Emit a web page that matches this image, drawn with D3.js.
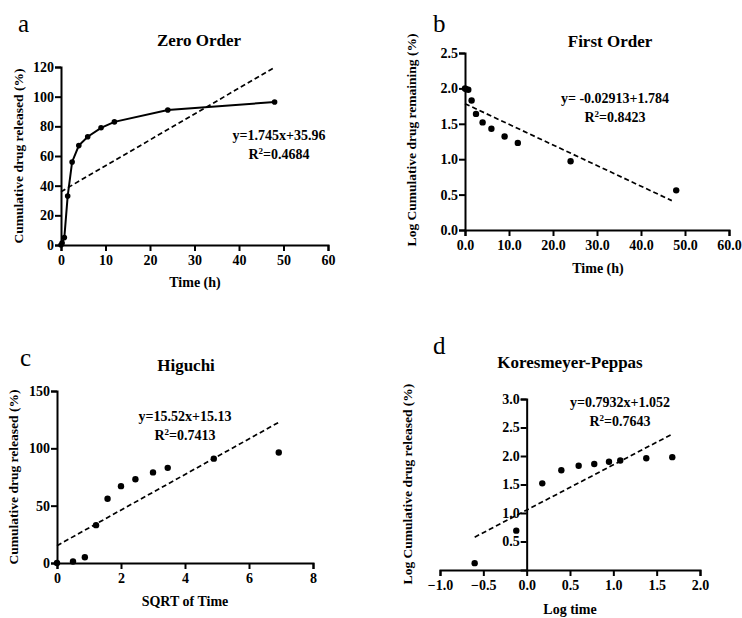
<!DOCTYPE html>
<html>
<head>
<meta charset="utf-8">
<script src="https://cdn.jsdelivr.net/npm/d3@7"></script>
<style>
  body { margin: 0; background: #fff; }
  svg { display: block; font-family: "Liberation Serif", "Times New Roman", serif; }
  .axis path, .axis line { stroke: #000; stroke-width: 2; }
</style>
</head>
<body>
<svg width="742" height="618"></svg>
<script>
// sampling times (h) and cumulative release (%)
var times = [0, 0.25, 0.75, 1.5, 2.5, 4, 6, 9, 12, 24, 48];
var released = [0, 1.3, 5, 33, 56, 67, 73, 79, 83, 91, 96.4];

// first order: log % remaining
var logRemaining = [2.0, 1.99, 1.98, 1.83, 1.64, 1.52, 1.43, 1.32, 1.23, 0.97, 0.56];

// higuchi: sqrt of time
var sqrtTime = [0, 0.5, 0.87, 1.22, 1.58, 2.0, 2.45, 3.0, 3.46, 4.9, 6.93];

// korsmeyer-peppas: log time vs log released (t = 0 dropped)
var logTime = [-0.6, -0.12, 0.18, 0.4, 0.6, 0.78, 0.95, 1.08, 1.38, 1.68];
var logReleased = [0.12, 0.69, 1.52, 1.75, 1.83, 1.86, 1.9, 1.92, 1.96, 1.98];

// fits: [slope, intercept, xStart, xEnd]
var fitZero = [1.745, 35.96, 0, 48];
var fitFirst = [-0.02913, 1.784, 0, 47];
var fitHiguchi = [15.52, 15.13, 0, 6.93];
var fitKP = [0.7932, 1.052, -0.6, 1.68];

var svg = d3.select("svg");
var serif = "'Liberation Serif', 'Times New Roman', serif";

function styleAxis(sel) {
    sel.attr("font-family", serif).attr("font-size", 14);
    sel.selectAll(".tick text")
        .attr("font-weight", "bold").attr("fill", "#000");
}

function drawPanel(opt) {
    var g = svg.append("g");
    var x = d3.scaleLinear().domain(opt.xDomain).range(opt.xRange);
    var y = d3.scaleLinear().domain(opt.yDomain).range(opt.yRange);

    var xAxis = d3.axisBottom(x).tickValues(opt.xTicks).tickSizeOuter(0).tickSize(6).tickPadding(4)
        .tickFormat(opt.xFmt);
    var yAxis = d3.axisLeft(y).tickValues(opt.yTicks).tickSizeOuter(0).tickSize(6).tickPadding(1)
        .tickFormat(opt.yFmt);

    g.append("g").attr("class", "axis")
        .attr("transform", "translate(0," + y(opt.xAxisAt) + ")")
        .call(xAxis)
        .call(styleAxis);
    g.append("g").attr("class", "axis")
        .attr("transform", "translate(" + x(opt.yAxisAt) + ",0)")
        .call(yAxis)
        .call(styleAxis);

    // fitted line
    var f = opt.fit;
    g.append("line")
        .attr("x1", x(f[2])).attr("y1", y(f[0] * f[2] + f[1]))
        .attr("x2", x(f[3])).attr("y2", y(f[0] * f[3] + f[1]))
        .attr("stroke", "#000").attr("stroke-width", 1.7)
        .attr("stroke-dasharray", "5,3");

    if (opt.connect) {
        g.append("path")
            .datum(opt.xs)
            .attr("fill", "none").attr("stroke", "#000").attr("stroke-width", 2)
            .attr("d", d3.line().x(function (d) { return x(d); })
                .y(function (d, i) { return y(opt.ys[i]); }));
    }

    g.selectAll("circle.pt")
        .data(opt.xs)
        .enter().append("circle")
        .attr("class", "pt")
        .attr("cx", function (d) { return x(d); })
        .attr("cy", function (d, i) { return y(opt.ys[i]); })
        .attr("r", opt.r);

    // letter, title, labels
    g.append("text").attr("x", opt.letter[1]).attr("y", opt.letter[2])
        .attr("font-size", 25).text(opt.letter[0]);
    g.append("text").attr("x", opt.title[1]).attr("y", opt.title[2])
        .attr("text-anchor", "middle").attr("font-size", 17).attr("font-weight", "bold")
        .text(opt.title[0]);
    g.append("text").attr("x", opt.xTitle[1]).attr("y", opt.xTitle[2])
        .attr("text-anchor", "middle").attr("font-size", 14).attr("font-weight", "bold")
        .text(opt.xTitle[0]);
    g.append("text")
        .attr("transform", "translate(" + opt.yTitle[1] + "," + opt.yTitle[2] + ") rotate(-90)")
        .attr("text-anchor", "middle").attr("font-size", 13.5).attr("font-weight", "bold")
        .text(opt.yTitle[0]);

    // equation
    var eq = g.append("g").attr("font-size", 14).attr("font-weight", "bold")
        .attr("text-anchor", "middle");
    eq.append("text").attr("x", opt.eq[0]).attr("y", opt.eq[1]).text(opt.eqText);
    var r2 = eq.append("text").attr("x", opt.eq[0]).attr("y", opt.eq[1] + 19);
    r2.append("tspan").text("R");
    r2.append("tspan").attr("dy", -5).attr("font-size", 9).text("2");
    r2.append("tspan").attr("dy", 5).text("=" + opt.r2Text);
}

var int0 = d3.format("d");
var one = d3.format(".1f");

drawPanel({
    xs: times, ys: released, connect: true, r: 2.8, fit: fitZero,
    xDomain: [0, 60], xRange: [61, 328], yDomain: [0, 120], yRange: [245, 67],
    xTicks: [0, 10, 20, 30, 40, 50, 60], yTicks: [0, 20, 40, 60, 80, 100, 120],
    xFmt: int0, yFmt: int0, xAxisAt: 0, yAxisAt: 0,
    letter: ["a", 18, 32], title: ["Zero Order", 199, 46],
    xTitle: ["Time (h)", 195, 287], yTitle: ["Cumulative drug released (%)", 23, 156],
    eq: [279, 140], eqText: "y=1.745x+35.96", r2Text: "0.4684"
});

drawPanel({
    xs: times, ys: logRemaining, connect: false, r: 3.2, fit: fitFirst,
    xDomain: [0, 60], xRange: [465, 729], yDomain: [0, 2.5], yRange: [230, 53],
    xTicks: [0, 10, 20, 30, 40, 50, 60], yTicks: [0, 0.5, 1, 1.5, 2, 2.5],
    xFmt: one, yFmt: one, xAxisAt: 0, yAxisAt: 0,
    letter: ["b", 433, 32], title: ["First Order", 610, 47],
    xTitle: ["Time (h)", 598, 273], yTitle: ["Log Cumulative drug remaining (%)", 416, 140],
    eq: [615, 103], eqText: "y= -0.02913+1.784", r2Text: "0.8423"
});

drawPanel({
    xs: sqrtTime, ys: released, connect: false, r: 3.2, fit: fitHiguchi,
    xDomain: [0, 8], xRange: [57, 313], yDomain: [0, 150], yRange: [563, 391],
    xTicks: [0, 2, 4, 6, 8], yTicks: [0, 50, 100, 150],
    xFmt: int0, yFmt: int0, xAxisAt: 0, yAxisAt: 0,
    letter: ["c", 20, 366], title: ["Higuchi", 186, 371],
    xTitle: ["SQRT of Time", 185, 606], yTitle: ["Cumulative drug released (%)", 18, 477],
    eq: [185, 421], eqText: "y=15.52x+15.13", r2Text: "0.7413"
});

drawPanel({
    xs: logTime, ys: logReleased, connect: false, r: 3.2, fit: fitKP,
    xDomain: [-1, 2], xRange: [440, 700], yDomain: [0, 3], yRange: [570, 399],
    xTicks: [-1, -0.5, 0, 0.5, 1, 1.5, 2], yTicks: [0.5, 1, 1.5, 2, 2.5, 3],
    xFmt: one, yFmt: one, xAxisAt: 0, yAxisAt: 0,
    letter: ["d", 433, 354], title: ["Koresmeyer-Peppas", 570, 368],
    xTitle: ["Log time", 570, 614], yTitle: ["Log Cumulative drug released (%)", 412, 484],
    eq: [620, 407], eqText: "y=0.7932x+1.052", r2Text: "0.7643"
});
</script>
</body>
</html>
